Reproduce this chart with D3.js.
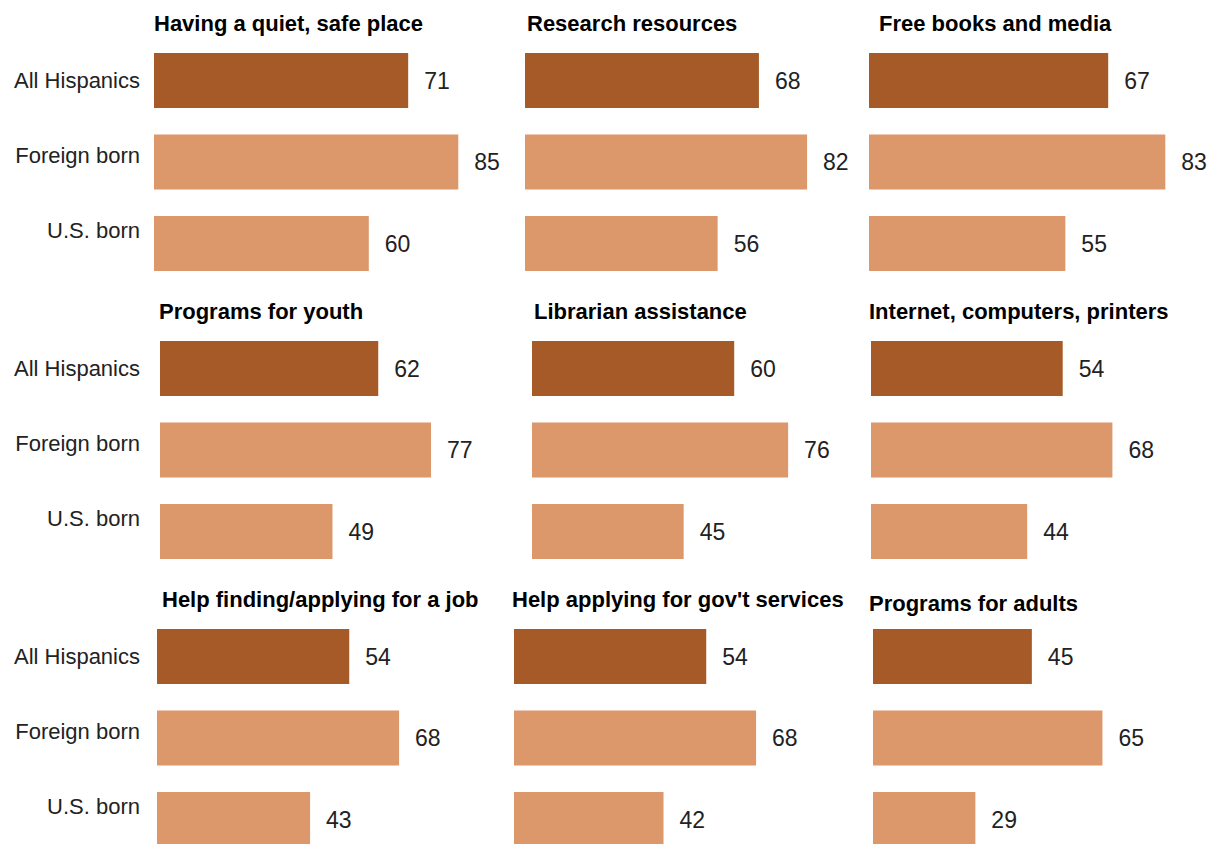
<!DOCTYPE html>
<html>
<head>
<meta charset="utf-8">
<script src="https://cdn.jsdelivr.net/npm/d3@7"></script>
<style>
  html, body { margin: 0; padding: 0; background: #fff; }
  svg { display: block; }
  .title { font-family: "Liberation Sans", Arial, sans-serif; font-weight: bold; font-size: 22px; fill: #000; }
  .narrow { font-family: "Liberation Sans Narrow", "Liberation Sans", sans-serif; }
  .rowlab { font-family: "Liberation Sans", Arial, sans-serif; font-size: 22px; fill: #222; }
  .val { font-family: "Liberation Sans", Arial, sans-serif; font-size: 23px; fill: #222; }
</style>
</head>
<body>
<svg id="chart" width="1217" height="844"></svg>
<script>
// Groups shown in every panel
const groups = ["All Hispanics", "Foreign born", "U.S. born"];

// Library services (panel titles), in reading order
const services = [
  "Having a quiet, safe place", "Research resources", "Free books and media",
  "Programs for youth", "Librarian assistance", "Internet, computers, printers",
  "Help finding/applying for a job", "Help applying for gov't services", "Programs for adults"
];

// Share (%) saying each service is very important, per group
const allHispanics = [71, 68, 67, 62, 60, 54, 54, 54, 45];
const foreignBorn  = [85, 82, 83, 77, 76, 68, 68, 68, 65];
const usBorn       = [60, 56, 55, 49, 45, 44, 43, 42, 29];

// Panel layout: bar origin, pixel length of 100%, title x, condensed type
const panelX0    = [154, 525, 869, 160, 532, 871, 157, 514, 873];
const panelSpan  = [358, 344, 357, 352, 337, 355, 356, 356, 353];
const titleX     = [154, 527, 879, 159, 534, 869, 162, 512, 869];
const titleDy    = [0, 0, 0, 0, 0, 0, 0, 0, 4];
const condensed  = [false, false, false, false, true, true, false, false, false];

const colors = ["#A55A27", "#DC976A", "#DC976A"];

const svg = d3.select("#chart");
const rowTop = 53, rowPitch = 288;

// Row labels on the left of each row of panels
for (let r = 0; r < 3; r++) {
  const top = rowTop + r * rowPitch;
  groups.forEach((g, i) => {
    svg.append("text")
      .attr("class", "rowlab")
      .attr("x", 140)
      .attr("y", top + 35 + i * 75)
      .attr("text-anchor", "end")
      .text(g);
  });
}

services.forEach((name, p) => {
  const r = Math.floor(p / 3);
  const top = rowTop + r * rowPitch;
  const vals = [allHispanics[p], foreignBorn[p], usBorn[p]];
  const data = groups.map((g, i) => ({ g, v: vals[i], c: colors[i] }));

  const x = d3.scaleLinear().domain([0, 100]).range([panelX0[p], panelX0[p] + panelSpan[p]]);
  const y = d3.scaleBand().domain(groups).range([top, top + 218]).paddingInner(0.325).paddingOuter(0);

  const g = svg.append("g");

  g.append("text")
    .attr("class", "title" + (condensed[p] ? " narrow" : ""))
    .attr("x", titleX[p])
    .attr("y", top - 22 + titleDy[p])
    .text(name);

  g.selectAll("rect")
    .data(data)
    .join("rect")
    .attr("x", x(0))
    .attr("y", d => y(d.g))
    .attr("width", d => x(d.v) - x(0))
    .attr("height", y.bandwidth())
    .attr("fill", d => d.c);

  g.selectAll("text.val")
    .data(data)
    .join("text")
    .attr("class", "val" + (condensed[p] ? " narrow" : ""))
    .attr("x", d => x(d.v) + 16)
    .attr("y", d => y(d.g) + y.bandwidth() / 2)
    .attr("dy", "0.36em")
    .text(d => d.v);
});
</script>
</body>
</html>
